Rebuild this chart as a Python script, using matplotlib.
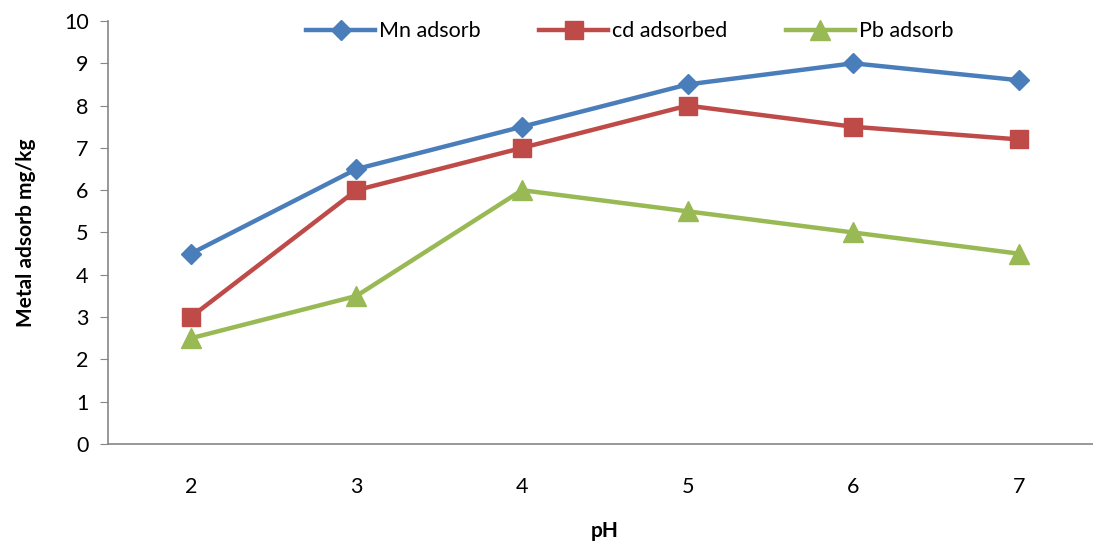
import matplotlib.pyplot as plt
import numpy as np

ph = ["2", "3", "4", "5", "6", "7"]
mn_adsorb = [4.5, 6.5, 7.5, 8.5, 9.0, 8.6]
cd_adsorbed = [3.0, 6.0, 7.0, 8.0, 7.5, 7.2]
pb_adsorb = [2.5, 3.5, 6.0, 5.5, 5.0, 4.5]

plt.rcParams['font.family'] = ['Lato', 'DejaVu Sans']

W, H = 1093, 541
fig = plt.figure(figsize=(W / 100, H / 100), dpi=100)
# plot area runs a little past the right edge, like the original sheet
ax = fig.add_axes([108 / W, (H - 444) / H, 993.6 / W, 423 / H])

x = np.arange(len(ph))
ax.plot(x, mn_adsorb, color='#4A7EBB', lw=3.2, marker='D', ms=10, label='Mn adsorb')
ax.plot(x, cd_adsorbed, color='#BE4B48', lw=3.2, marker='s', ms=13, label='cd adsorbed')
ax.plot(x, pb_adsorb, color='#98B954', lw=3.2, marker='^', ms=14, label='Pb adsorb')

ax.set_xlim(-0.5, len(ph) - 0.5)
ax.set_ylim(0, 10)
ax.set_yticks(range(0, 11))
ax.set_xticks(x)
ax.set_xticklabels(ph)

for s in ['top', 'right']:
    ax.spines[s].set_visible(False)
for s in ['left', 'bottom']:
    ax.spines[s].set_color('#868686')
    ax.spines[s].set_linewidth(1.2)

ax.tick_params(axis='y', direction='out', length=6, color='#868686', labelsize=15.5, pad=8)
ax.tick_params(axis='x', length=0, labelsize=15.5, pad=24)

ax.set_xlabel('pH', fontsize=15, fontweight='bold', labelpad=17)
ax.set_ylabel('Metal adsorb mg/kg', fontsize=15, fontweight='bold', labelpad=20)

ax.legend(loc='upper left', bbox_to_anchor=(0.18, 1.045), ncol=3, frameon=False,
          fontsize=15.5, handlelength=3.2, columnspacing=2.7, handletextpad=0.2)

fig.savefig('out.png', dpi=100)
